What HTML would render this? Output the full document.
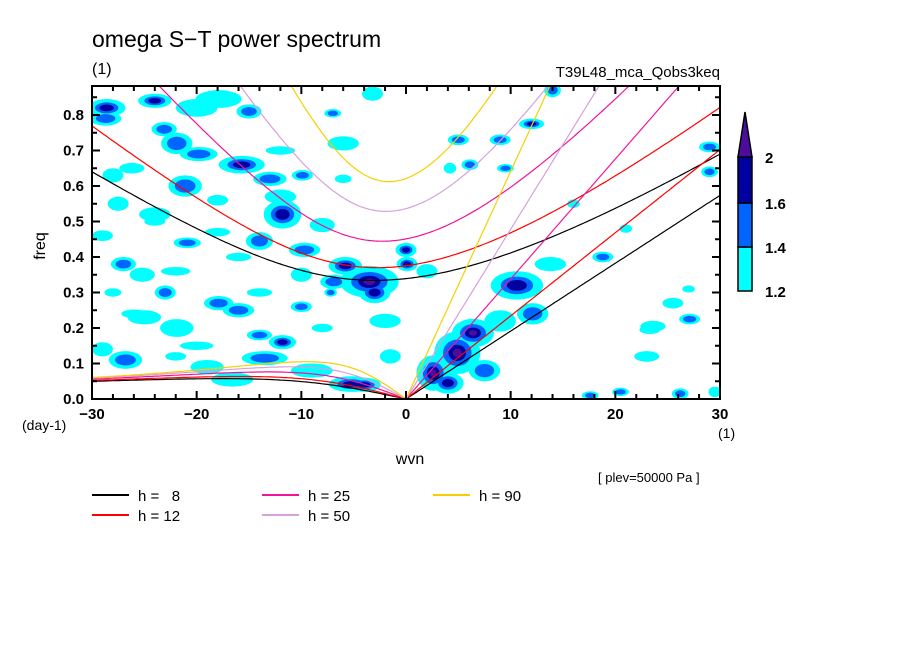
<!DOCTYPE html>
<html><head><meta charset="utf-8">
<style>
html,body{margin:0;padding:0;background:#fff;}
svg{display:block;font-family:"Liberation Sans",sans-serif;}
</style></head>
<body>
<svg id="chart" width="904" height="654" viewBox="0 0 904 654">
<defs><clipPath id="plotclip"><rect x="92" y="86" width="628" height="313"/></clipPath></defs>
<rect width="904" height="654" fill="#fff"/>
<text x="92" y="47" font-size="23">omega S−T power spectrum</text>
<text x="92" y="74" font-size="16">(1)</text>
<text x="720" y="77" font-size="15" text-anchor="end">T39L48_mca_Qobs3keq</text>
<g id="blobs" clip-path="url(#plotclip)"></g>
<g id="curves" clip-path="url(#plotclip)"></g>
<g id="axes"></g>
<text x="45" y="246" font-size="16" text-anchor="middle" transform="rotate(-90 45 246)">freq</text>
<text x="410" y="464" font-size="16" text-anchor="middle">wvn</text>
<text x="22" y="430" font-size="14">(day-1)</text>
<text x="718" y="438" font-size="14">(1)</text>
<text x="598" y="482" font-size="13">[ plev=50000 Pa ]</text>
<g id="colorbar"></g>
<g id="legend"></g>
</svg>
<script>
const hValues=[8,12,25,50,90];
const hColors=['#000000','#ff0000','#f0149b','#d8a0dc','#f5d000'];
const xTicks=[-30,-20,-10,0,10,20,30];
const yTicks=[0.0,0.1,0.2,0.3,0.4,0.5,0.6,0.7,0.8];
const cbLevels=[1.2,1.4,1.6,2];
const cbColors=['#00ffff','#0064ff','#0000a0','#4c0c9c'];
// blobs: wavenumber, frequency, level
const blobX=[-24,-28.6,-28.7,-23.1,-21.9,-19.8,-15.7,-13,-9.9,-21.1,-11.8,-14,-9.7,-5.8,-3.5,-3,-6.9,0,0.1,-7.2,-11.8,-13.5,-16,-17.9,-20.9,-23,-21.9,-29,-27,-29,-26.8,-5.2,-4,-16.6,-25.2,-15,-20,-7,-3.2,-26.2,-17.9,-28,4.9,2.6,6.4,4,10.6,12.1,9,12,14,13.8,18.8,23,26.2,29,29,27.1,25.5,23.6,27,9,5,6.1,4.2,9.5,17.6,20.5,29.5,23.3,-2,-9,-12,-19,-25,-8,-1.5,16,21,-24,-27.5,-10,-6,2,7.5,-26,-22,-18,-14,-10,-20,-16,-24,-12,-8,-28,-18,-6,-22,-14];
const blobF=[0.84,0.82,0.79,0.76,0.72,0.69,0.66,0.62,0.63,0.60,0.52,0.445,0.42,0.375,0.33,0.30,0.33,0.42,0.38,0.30,0.16,0.115,0.25,0.27,0.44,0.30,0.20,0.46,0.38,0.14,0.11,0.042,0.04,0.055,0.35,0.81,0.82,0.805,0.86,0.65,0.845,0.63,0.13,0.073,0.186,0.045,0.32,0.24,0.22,0.775,0.87,0.38,0.40,0.12,0.015,0.64,0.71,0.225,0.27,0.205,0.31,0.73,0.73,0.66,0.65,0.65,0.01,0.02,0.02,0.195,0.22,0.08,0.57,0.09,0.23,0.49,0.12,0.55,0.48,0.52,0.55,0.35,0.72,0.36,0.08,0.24,0.36,0.56,0.30,0.26,0.15,0.40,0.50,0.70,0.20,0.30,0.47,0.62,0.12,0.18];
const blobL=[3,3,2,2,2,2,3,2,2,2,3,2,2,3,4,3,2,3,3,2,3,2,2,2,2,2,1,1,2,1,2,3,3,1,1,2,1,2,1,1,1,1,4,4,4,3,3,2,1,3,2,1,2,1,2,2,2,2,1,1,1,2,2,2,1,2,2,2,1,1,1,1,1,1,1,1,1,1,1,1,1,1,1,1,2,1,1,1,1,2,1,1,1,1,1,1,1,1,1,2];
const blobRx=[1.6,1.8,1.5,1.2,1.5,1.8,2.2,1.6,1.0,1.6,1.8,1.3,1.5,1.6,2.8,1.5,1.3,1.0,1.0,0.6,1.3,2.2,1.5,1.4,1.3,1.0,1.6,1.0,1.2,1.0,1.6,2.2,1.6,2.0,1.2,1.2,2.0,0.8,1.0,1.2,2.2,1.0,2.2,1.6,2.0,1.5,2.5,1.5,1.5,1.2,0.8,1.5,1.0,1.2,0.8,0.8,1.0,1.0,1.0,1.2,0.6,1.0,1.0,0.8,0.6,0.8,0.8,0.8,0.6,1.0,1.5,2.0,1.5,1.6,1.6,1.2,1.0,0.6,0.6,1.5,1.0,1.0,1.5,1.0,1.5,1.2,1.4,1.0,1.2,1.0,1.6,1.2,1.0,1.4,1.0,0.8,1.2,0.8,1.0,1.2];
const blobRy=[0.02,0.025,0.02,0.02,0.03,0.02,0.025,0.02,0.015,0.03,0.04,0.025,0.02,0.025,0.045,0.03,0.02,0.02,0.02,0.012,0.02,0.02,0.02,0.02,0.015,0.02,0.025,0.015,0.02,0.02,0.025,0.022,0.02,0.02,0.02,0.02,0.025,0.012,0.02,0.015,0.025,0.02,0.06,0.05,0.04,0.03,0.04,0.03,0.03,0.015,0.02,0.02,0.015,0.015,0.015,0.015,0.015,0.015,0.015,0.015,0.01,0.015,0.015,0.015,0.015,0.012,0.012,0.012,0.015,0.012,0.02,0.02,0.02,0.02,0.02,0.02,0.02,0.012,0.012,0.02,0.02,0.02,0.02,0.02,0.03,0.012,0.012,0.015,0.012,0.015,0.012,0.012,0.012,0.012,0.012,0.012,0.012,0.012,0.012,0.015];

const NS='http://www.w3.org/2000/svg';
const X0=92,X1=720,Y0=399,YT=86;
function xs(v){return 406+v*(X1-X0)/60;}
function ys(f){return Y0-f*355;}
function mk(tag,attrs,parent){const e=document.createElementNS(NS,tag);for(const k in attrs)e.setAttribute(k,attrs[k]);parent.appendChild(e);return e;}

const gb=document.getElementById('blobs');
const scales=[1,0.62,0.38,0.2];
for(let lv=0;lv<4;lv++){
  for(let i=0;i<blobX.length;i++){
    if(blobL[i]>lv){
      const e=mk('ellipse',{cx:xs(blobX[i]),cy:ys(blobF[i]),rx:blobRx[i]*10.47*scales[lv],ry:blobRy[i]*355*scales[lv],fill:cbColors[lv]},gb);
      
      
    }
  }
}

const g=9.81,a=6.371e6,Om=7.292e-5,beta=2*Om/a,toCpd=86400/(2*Math.PI);
const gc=document.getElementById('curves');
function roots(s,c){
  const k=s/a;const F=w=>w*w/(c*c)-k*k-beta*k/w-3*beta/c;
  const r=[];let prev=null,pw=null;
  for(let i=0;i<=3000;i++){const w=Math.pow(10,-8+5*i/3000);const v=F(w);
    if(prev!==null&&Math.sign(v)!==Math.sign(prev)){let lo=pw,hi=w;for(let j=0;j<40;j++){const m=(lo+hi)/2;if(Math.sign(F(m))===Math.sign(F(lo)))lo=m;else hi=m;}r.push((lo+hi)/2);}
    prev=v;pw=w;}
  return r;
}
hValues.forEach((h,hi)=>{
  const c=Math.sqrt(g*h);
  let ig=[],er=[],kel=[];
  for(let s=-30;s<=30.001;s+=0.25){
    const r=roots(s,c);
    if(r.length){ig.push([xs(s),ys(r[r.length-1]*toCpd)]);
      if(s<0&&r.length>1)er.push([xs(s),ys(r[0]*toCpd)]);}
    if(s>=0)kel.push([xs(s),ys(c*s/a*toCpd)]);
  }
  er.push([xs(0),ys(0)]);
  [['ig',ig],['er',er],['kelvin',kel]].forEach(([nm,pts])=>{
    const p=mk('polyline',{points:pts.map(q=>q[0].toFixed(1)+','+q[1].toFixed(1)).join(' '),fill:'none',stroke:hColors[hi],'stroke-width':1.2},gc);
    
    
  });
});

const ga=document.getElementById('axes');
mk('rect',{x:X0,y:YT,width:X1-X0,height:Y0-YT,fill:'none',stroke:'#000','stroke-width':2},ga);
for(let v=-30;v<=30;v+=2){const major=v%10===0;const L=major?8:5;
  mk('line',{x1:xs(v),y1:Y0,x2:xs(v),y2:Y0-L,stroke:'#000','stroke-width':2},ga);
  mk('line',{x1:xs(v),y1:YT,x2:xs(v),y2:YT+L,stroke:'#000','stroke-width':2},ga);}
for(let i=0;i<=17;i++){const f=i*0.05;const major=i%2===0;const L=major?8:5;
  mk('line',{x1:X0,y1:ys(f),x2:X0+L,y2:ys(f),stroke:'#000','stroke-width':2},ga);
  mk('line',{x1:X1,y1:ys(f),x2:X1-L,y2:ys(f),stroke:'#000','stroke-width':2},ga);}
xTicks.forEach(v=>{const t=mk('text',{x:xs(v),y:419,'font-size':15,'text-anchor':'middle','font-weight':'bold'},ga);t.textContent=(v<0?'−'+(-v):v);
  
  });
yTicks.forEach(f=>{const t=mk('text',{x:84,y:ys(f)+5,'font-size':15,'text-anchor':'end','font-weight':'bold'},ga);t.textContent=f.toFixed(1);
  
  });

const gcb=document.getElementById('colorbar');
const cbY=[291,247,203,157];
for(let i=0;i<3;i++){const r=mk('rect',{x:738,y:cbY[i+1],width:14,height:cbY[i]-cbY[i+1],fill:cbColors[i],stroke:'#000','stroke-width':1.5},gcb);
  
  }
const tri=mk('polygon',{points:'738,157 752,157 745,112',fill:cbColors[3],stroke:'#000','stroke-width':1.5},gcb);


cbLevels.forEach((v,i)=>{const t=mk('text',{x:765,y:cbY[i]+6,'font-size':15,'font-weight':'bold'},gcb);t.textContent=String(v);
  
  });

const gl=document.getElementById('legend');
const legPos=[[92,495],[92,515],[262,495],[262,515],[433,495]];
hValues.forEach((h,i)=>{const [lx,ly]=legPos[i];
  const ln=mk('line',{x1:lx,y1:ly,x2:lx+37,y2:ly,stroke:hColors[i],'stroke-width':2},gl);
  
  
  const t=mk('text',{x:lx+46,y:ly+6,'font-size':15,'xml:space':'preserve'},gl);
  t.textContent='h = '+(h<10?'\u00a0 ':'')+h;
  
  });
</script>
</body></html>
